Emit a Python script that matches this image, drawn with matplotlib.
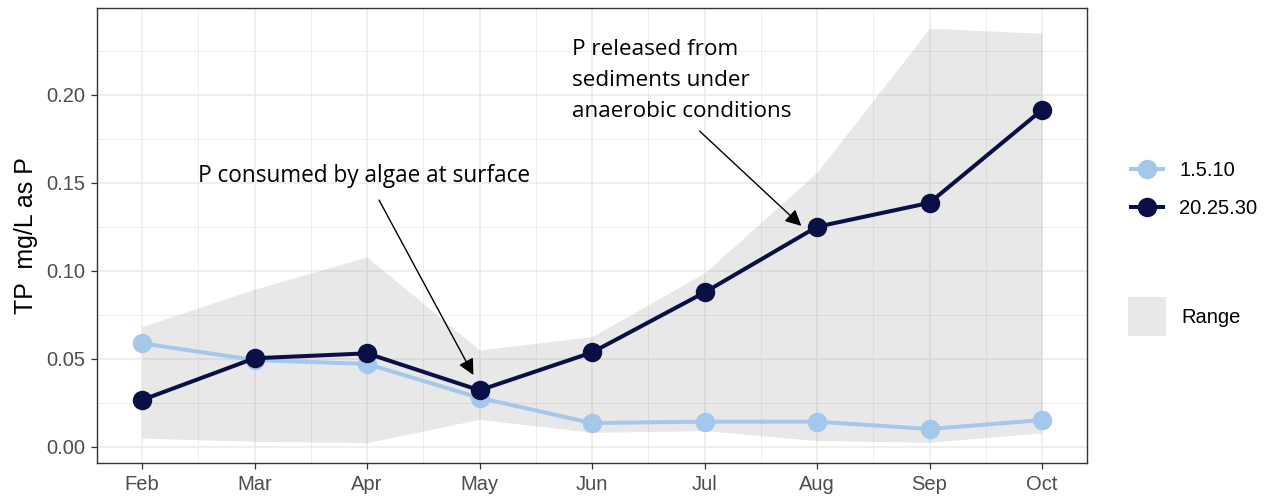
import matplotlib
matplotlib.use('Agg')
import matplotlib.pyplot as plt
from matplotlib.lines import Line2D
from matplotlib.patches import Patch
from matplotlib.ticker import FixedLocator

months = ['Feb', 'Mar', 'Apr', 'May', 'Jun', 'Jul', 'Aug', 'Sep', 'Oct']
tp_1_5_10 = [0.0589, 0.0494, 0.0472, 0.0279, 0.0136, 0.0144, 0.0144, 0.0102, 0.0153]
tp_20_25_30 = [0.0267, 0.0504, 0.0532, 0.0322, 0.0537, 0.0878, 0.1251, 0.1387, 0.1915]
range_low = [0.0051, 0.0032, 0.0025, 0.0157, 0.0083, 0.0093, 0.0036, 0.0027, 0.0081]
range_high = [0.0684, 0.0896, 0.1080, 0.0551, 0.0627, 0.0989, 0.1560, 0.2379, 0.2350]
series_labels = ['1.5.10', '20.25.30']
y_ticks = [0.00, 0.05, 0.10, 0.15, 0.20]
y_tick_labels = ['0.00', '0.05', '0.10', '0.15', '0.20']
note1 = 'P consumed by algae at surface'
note2 = 'P released from\nsediments under\nanaerobic conditions'

C_LIGHT = '#a4c7ec'
C_DARK = '#0a0f45'
TICK_FONT = ['Liberation Sans', 'DejaVu Sans']
NOTE_FONT = ['Open Sans', 'DejaVu Sans']

fig = plt.figure(figsize=(12.69, 4.97), dpi=100)
ax = fig.add_axes([97/1269, 1-463/497, (1087-97)/1269, (463-8)/497])

x = list(range(len(months)))

ax.fill_between(x, range_low, range_high, color='#808080', alpha=0.18,
                linewidth=0, zorder=1)
ax.plot(x, tp_1_5_10, color=C_LIGHT, lw=2.9, marker='o', ms=13, zorder=3)
ax.plot(x, tp_20_25_30, color=C_DARK, lw=2.9, marker='o', ms=13, zorder=4)

ax.set_xlim(-0.4, 8.4)
ax.set_ylim(-0.0091, 0.2494)
ax.set_xticks(x)
ax.set_xticklabels(months)
ax.xaxis.set_minor_locator(FixedLocator([i + 0.5 for i in range(8)]))
ax.set_yticks(y_ticks)
ax.set_yticklabels(y_tick_labels)
ax.yaxis.set_minor_locator(FixedLocator([0.025, 0.075, 0.125, 0.175, 0.225]))

ax.grid(which='major', color='#ebebeb', lw=1.1, zorder=0)
ax.grid(which='minor', color='#ebebeb', lw=0.6, zorder=0)
ax.set_axisbelow(True)
ax.tick_params(which='minor', length=0)
ax.tick_params(which='major', length=4.5, width=0.9, color='#333333',
               labelcolor='#4d4d4d', labelsize=14.5, pad=4)
for lab in ax.get_xticklabels() + ax.get_yticklabels():
    lab.set_family(TICK_FONT)
for s in ax.spines.values():
    s.set_color('#333333')
    s.set_linewidth(1.0)

ax.set_ylabel('TP  mg/L as P', fontsize=18, family=TICK_FONT, labelpad=6)

# annotations: text and arrows
ax.text(1.975, 0.1538, note1, ha='center', va='center', fontsize=16.3,
        family=NOTE_FONT, color='black')
ax.annotate('', xy=(2.946, 0.0409), xytext=(2.107, 0.1403),
            arrowprops=dict(arrowstyle='-|>', color='black', lw=1.0,
                            mutation_scale=24, shrinkA=0, shrinkB=0))
ax.text(3.82, 0.2080, note2, ha='left', va='center', fontsize=16.2,
        family=NOTE_FONT, color='black', linespacing=1.62)
ax.annotate('', xy=(5.861, 0.1256), xytext=(4.956, 0.1795),
            arrowprops=dict(arrowstyle='-|>', color='black', lw=1.0,
                            mutation_scale=24, shrinkA=0, shrinkB=0))

# legends
h_lines = [Line2D([0], [0], color=C_LIGHT, lw=2.9, marker='o', ms=13),
           Line2D([0], [0], color=C_DARK, lw=2.9, marker='o', ms=13)]
leg1 = fig.legend(h_lines, series_labels, loc='upper left',
                  bbox_to_anchor=(1113/1269, 1-143/497), frameon=False,
                  prop={'family': TICK_FONT, 'size': 14.5}, handlelength=1.6,
                  labelspacing=0.95, handletextpad=0.8)
leg2 = fig.legend([Patch(facecolor='#808080', alpha=0.18, lw=0)], ['Range'],
                  loc='upper left', bbox_to_anchor=(1110/1269, 1-279/497),
                  frameon=False, prop={'family': TICK_FONT, 'size': 14.5},
                  handlelength=1.9, handleheight=2.6, handletextpad=0.75)

fig.savefig('out.png', dpi=100)
